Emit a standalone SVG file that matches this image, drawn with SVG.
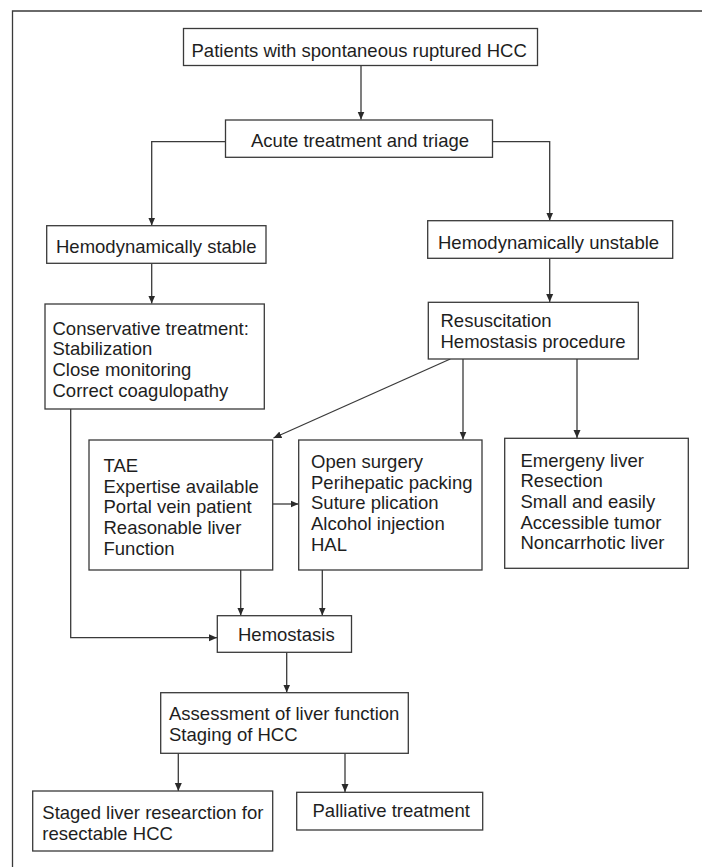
<svg xmlns="http://www.w3.org/2000/svg" width="702" height="867" viewBox="0 0 702 867">
<style>
  .box { fill: #ffffff; stroke: #3a3a3a; stroke-width: 1.3; }
  .t { font-family: "Liberation Sans", Arial, sans-serif; font-size: 18.5px; fill: #1e1e1e; }
  .c { fill: none; stroke: #3a3a3a; stroke-width: 1.3; }
  .arr { marker-end: url(#ah); }
</style>
<defs>
  <marker id="ah" markerUnits="userSpaceOnUse" markerWidth="9" markerHeight="8" refX="8" refY="4" orient="auto">
    <path d="M0,0.5 L8,4 L0,7.5 z" fill="#2a2a2a"/>
  </marker>
</defs>
<rect width="702" height="867" fill="#ffffff"/>
<path d="M12.5,867 V11 H702" fill="none" stroke="#3a3a3a" stroke-width="1.3"/>

<g id="connectors">
  <path class="c arr" d="M361,65.5 V119.5"/>
  <path class="c arr" d="M225.5,141.7 H151.7 V225.5"/>
  <path class="c arr" d="M492.5,141.7 H549.7 V220.5"/>
  <path class="c arr" d="M151.7,263.5 V303.5"/>
  <path class="c arr" d="M549.7,258.5 V302"/>
  <path class="c arr" d="M450.3,359 L273.5,438"/>
  <path class="c arr" d="M463,359 V439.5"/>
  <path class="c arr" d="M577,359 V438"/>
  <path class="c arr" d="M272.7,504 H298.5"/>
  <path class="c arr" d="M240.7,570 V615.5"/>
  <path class="c arr" d="M322.3,570 V615.5"/>
  <path class="c arr" d="M70.7,409 V637.7 H217"/>
  <path class="c arr" d="M286.7,652.3 V692.5"/>
  <path class="c arr" d="M178.3,753.3 V791"/>
  <path class="c arr" d="M345,753.3 V792"/>
</g>

<g id="n_patients">
  <rect class="box" x="183.5" y="28.5" width="354" height="37"/>
  <text class="t" x="191.5" y="56.5">Patients with spontaneous ruptured HCC</text>
</g>
<g id="n_acute">
  <rect class="box" x="225.5" y="120" width="267" height="37.3"/>
  <text class="t" x="251" y="146.5">Acute treatment and triage</text>
</g>
<g id="n_stable">
  <rect class="box" x="46.7" y="225.7" width="219.3" height="37.6"/>
  <text class="t" x="56" y="252.5">Hemodynamically stable</text>
</g>
<g id="n_unstable">
  <rect class="box" x="427.7" y="220.7" width="245" height="37.6"/>
  <text class="t" x="438" y="248.5">Hemodynamically unstable</text>
</g>
<g id="n_conservative">
  <rect class="box" x="45" y="304" width="219.3" height="105"/>
  <text class="t" x="52.5" y="334.5">Conservative treatment:</text>
  <text class="t" x="52.5" y="355.3">Stabilization</text>
  <text class="t" x="52.5" y="376.1">Close monitoring</text>
  <text class="t" x="52.5" y="396.9">Correct coagulopathy</text>
</g>
<g id="n_resus">
  <rect class="box" x="428.3" y="302.3" width="210" height="56.7"/>
  <text class="t" x="440.5" y="327">Resuscitation</text>
  <text class="t" x="440.5" y="348">Hemostasis procedure</text>
</g>
<g id="n_tae">
  <rect class="box" x="89" y="440" width="183.7" height="130"/>
  <text class="t" x="103.5" y="472">TAE</text>
  <text class="t" x="103.5" y="492.7">Expertise available</text>
  <text class="t" x="103.5" y="513.4">Portal vein patient</text>
  <text class="t" x="103.5" y="534.1">Reasonable liver</text>
  <text class="t" x="103.5" y="554.8">Function</text>
</g>
<g id="n_open">
  <rect class="box" x="298.7" y="440" width="183.3" height="130"/>
  <text class="t" x="311" y="468">Open surgery</text>
  <text class="t" x="311" y="488.7">Perihepatic packing</text>
  <text class="t" x="311" y="509.4">Suture plication</text>
  <text class="t" x="311" y="530.1">Alcohol injection</text>
  <text class="t" x="311" y="550.8">HAL</text>
</g>
<g id="n_emergency">
  <rect class="box" x="504.7" y="438.3" width="183.6" height="130"/>
  <text class="t" x="520.5" y="466.5">Emergeny liver</text>
  <text class="t" x="520.5" y="487.2">Resection</text>
  <text class="t" x="520.5" y="507.9">Small and easily</text>
  <text class="t" x="520.5" y="528.6">Accessible tumor</text>
  <text class="t" x="520.5" y="549.3">Noncarrhotic liver</text>
</g>
<g id="n_hemostasis">
  <rect class="box" x="217.3" y="615.7" width="134.2" height="36.6"/>
  <text class="t" x="238" y="640.8">Hemostasis</text>
</g>
<g id="n_assessment">
  <rect class="box" x="160.7" y="692.7" width="247.6" height="60.6"/>
  <text class="t" x="169" y="719.8">Assessment of liver function</text>
  <text class="t" x="169" y="740.5">Staging of HCC</text>
</g>
<g id="n_staged">
  <rect class="box" x="32.7" y="791" width="240" height="60"/>
  <text class="t" x="42.3" y="818.8">Staged liver researction for</text>
  <text class="t" x="42.3" y="839.6">resectable HCC</text>
</g>
<g id="n_palliative">
  <rect class="box" x="296.7" y="792.3" width="186" height="37.7"/>
  <text class="t" x="312.5" y="817">Palliative treatment</text>
</g>
</svg>
